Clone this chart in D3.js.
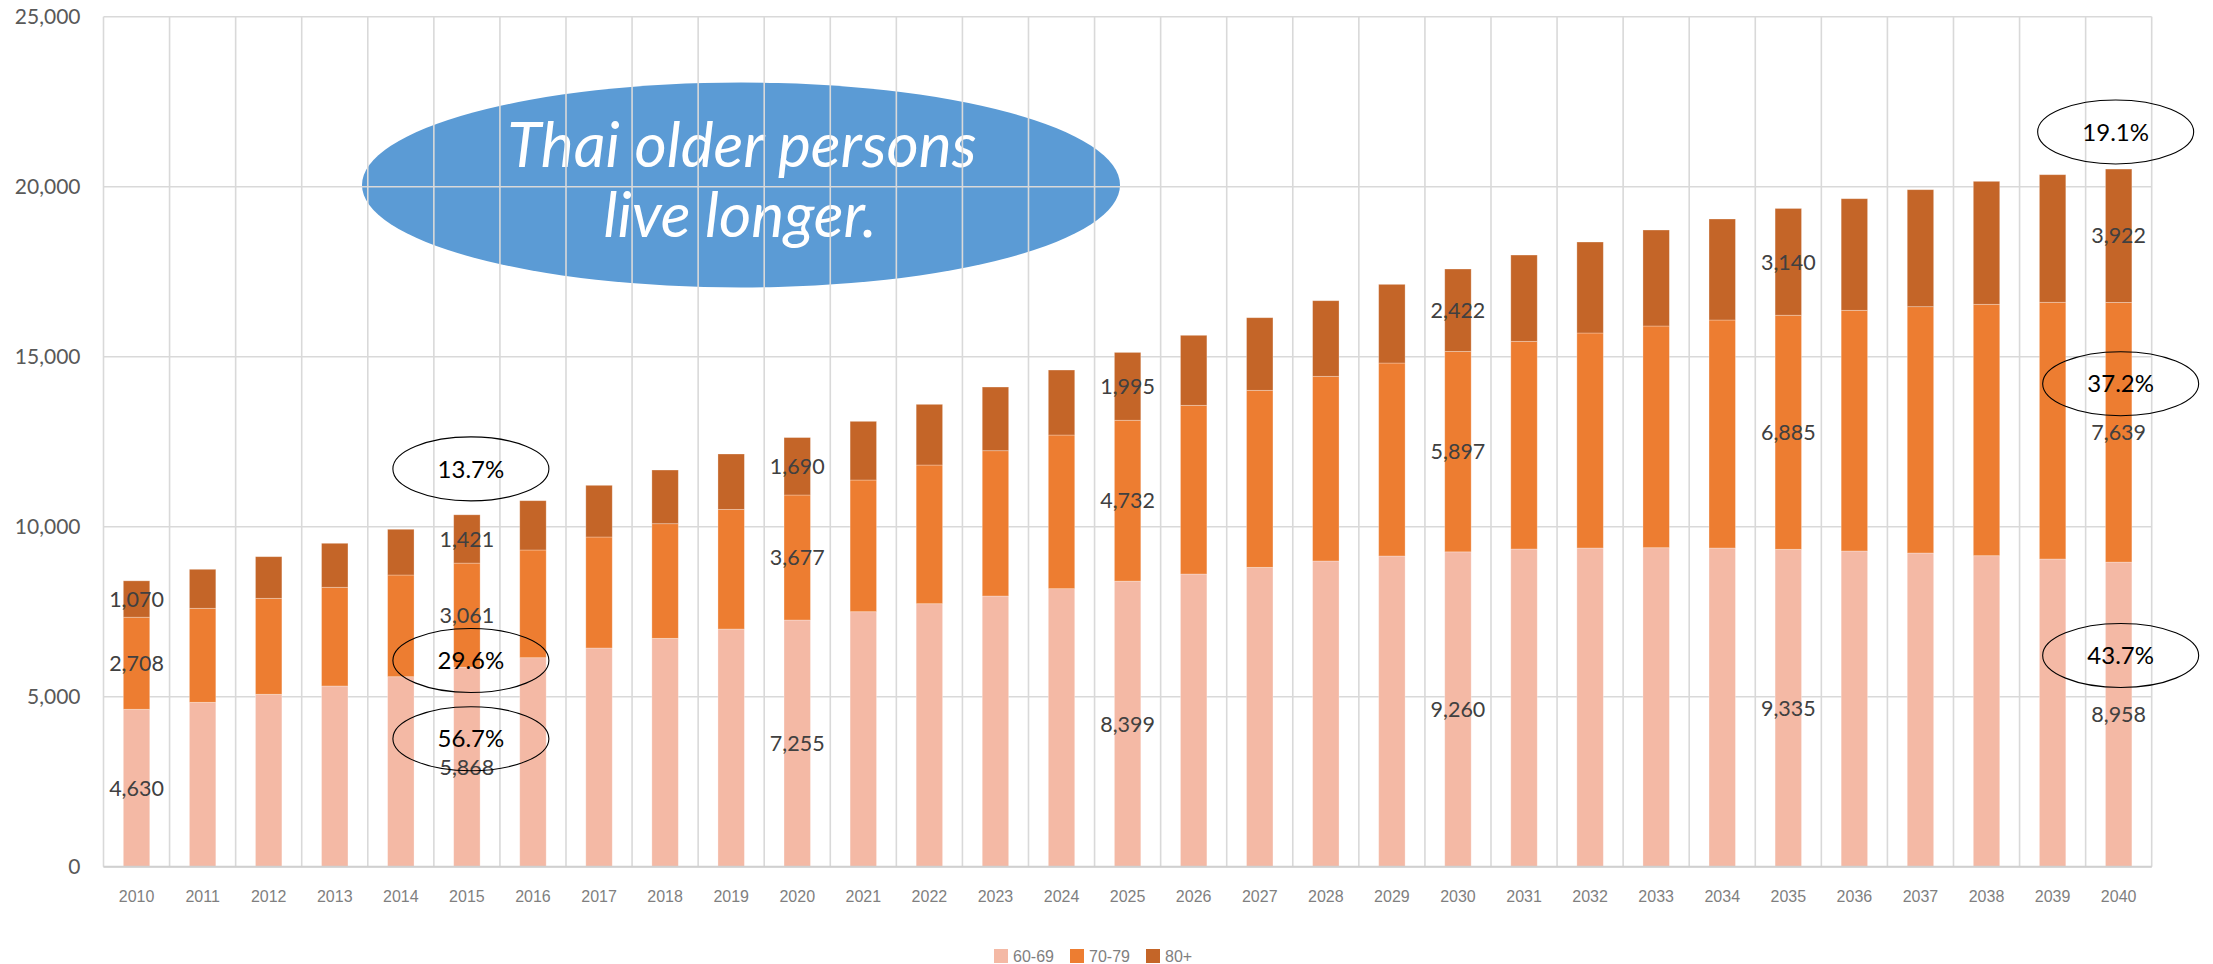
<!DOCTYPE html>
<meta charset="utf-8">
<style>
  body { margin: 0; background: #fff; }
</style>
<script src="https://d3js.org/d3.v7.min.js"></script>
<div id="chart"></div>
<script>

// categories
var years = ["2010","2011","2012","2013","2014","2015","2016","2017","2018","2019","2020",
             "2021","2022","2023","2024","2025","2026","2027","2028","2029","2030",
             "2031","2032","2033","2034","2035","2036","2037","2038","2039","2040"];

// population by age group (thousands)
var age6069 = [4630, 4835, 5071, 5315, 5588, 5868, 6147, 6432, 6717, 6990, 7255,
               7500, 7735, 7961, 8177, 8399, 8608, 8805, 8991, 9138, 9260,
               9344, 9373, 9382, 9373, 9335, 9285, 9226, 9147, 9050, 8958];
var age7079 = [2708, 2765, 2823, 2903, 2991, 3061, 3168, 3265, 3371, 3520, 3677,
               3873, 4079, 4274, 4519, 4732, 4962, 5206, 5432, 5676, 5897,
               6108, 6324, 6521, 6706, 6885, 7079, 7245, 7394, 7550, 7639];
var age80   = [1070, 1147, 1224, 1294, 1345, 1421, 1450, 1520, 1579, 1628, 1690,
               1726, 1785, 1873, 1912, 1995, 2059, 2136, 2224, 2314, 2422,
               2538, 2676, 2823, 2971, 3140, 3283, 3441, 3617, 3753, 3922];

var seriesNames = ["60-69", "70-79", "80+"];
var yTicks = [0, 5000, 10000, 15000, 20000, 25000];
var labelYears = ["2010", "2015", "2020", "2025", "2030", "2035", "2040"];

// share callouts: year, value where the ring sits, text
var calloutYears  = ["2015", "2015", "2015", "2040", "2040", "2040"];
var calloutValues = [11700, 6065, 3765, 21610, 14206, 6212];
var calloutShift  = [4, 4, 4, -3, 2, 2];
var calloutText   = ["13.7%", "29.6%", "56.7%", "19.1%", "37.2%", "43.7%"];

var titleLines = ["Thai older persons", "live longer."];

var W = 2213, H = 964;
var margin = {top: 16.7, right: 61.3, bottom: 97.3, left: 103.5};
var width = W - margin.left - margin.right;
var height = H - margin.top - margin.bottom;

var colors = ["#f4b9a5", "#ed7d31", "#c46528"];
var gridColor = "#d9d9d9";

var svg = d3.select("#chart").append("svg")
    .attr("width", W)
    .attr("height", H);

var g = svg.append("g")
    .attr("transform", "translate(" + margin.left + "," + margin.top + ")");

var x = d3.scaleBand().domain(years).range([0, width]).paddingInner(0).paddingOuter(0);
var y = d3.scaleLinear().domain([0, 25000]).range([height, 0]);
var barW = x.bandwidth() * 0.40;

// table for stacking
var table = years.map(function(yr, i) {
  return {year: yr, "60-69": age6069[i], "70-79": age7079[i], "80+": age80[i]};
});
var stack = d3.stack().keys(seriesNames)(table);

// title bubble (sits under the grid, as in the original)
var bubble = g.append("g");
bubble.append("ellipse")
    .attr("cx", 741 - margin.left)
    .attr("cy", 185 - margin.top)
    .attr("rx", 379)
    .attr("ry", 102.5)
    .attr("fill", "#5b9bd5");

var titleTargets = [{w: 468, cx: 742, base: 167}, {w: 274, cx: 740, base: 237}];
var titleTexts = titleLines.map(function(line, i) {
  return bubble.append("text")
      .attr("x", titleTargets[i].cx - margin.left)
      .attr("y", titleTargets[i].base - margin.top)
      .attr("text-anchor", "middle")
      .style("font-family", "Lato, 'Open Sans', sans-serif")
      .style("font-style", "italic")
      .style("font-size", "56px")
      .attr("fill", "#fff")
      .text(line);
});
// one size for both lines, fitted to the average width ratio
var ratio = d3.mean(titleTexts, function(t, i) {
  return titleTargets[i].w / t.node().getComputedTextLength();
});
titleTexts.forEach(function(t) { t.style("font-size", (56 * ratio) + "px"); });

// grid
g.append("g").selectAll("line.h")
    .data(yTicks)
    .enter().append("line")
    .attr("x1", 0).attr("x2", width)
    .attr("y1", function(d) { return y(d); })
    .attr("y2", function(d) { return y(d); })
    .attr("stroke", gridColor)
    .attr("stroke-width", 1.6);

var vLines = years.map(function(d) { return x(d); }).concat([width]);
g.append("g").selectAll("line.v")
    .data(vLines)
    .enter().append("line")
    .attr("x1", function(d) { return d; })
    .attr("x2", function(d) { return d; })
    .attr("y1", 0).attr("y2", height)
    .attr("stroke", gridColor)
    .attr("stroke-width", 1.6);

// bars
var layers = g.append("g").selectAll("g.layer")
    .data(stack)
    .enter().append("g")
    .attr("fill", function(d, i) { return colors[i]; });

layers.selectAll("rect")
    .data(function(d) { return d; })
    .enter().append("rect")
    .attr("x", function(d) { return x(d.data.year) + (x.bandwidth() - barW) / 2; })
    .attr("width", barW)
    .attr("y", function(d) { return y(d[1]); })
    .attr("height", function(d) { return y(d[0]) - y(d[1]); })
    .attr("stroke", "#fff")
    .attr("stroke-opacity", 0.35)
    .attr("stroke-width", 0.8);

// bottom axis line
g.append("line")
    .attr("x1", 0).attr("x2", width)
    .attr("y1", height).attr("y2", height)
    .attr("stroke", "#d0d0d0")
    .attr("stroke-width", 2);

// y axis labels
var yAxis = d3.axisLeft(y).tickValues(yTicks).tickSize(0).tickPadding(23)
    .tickFormat(d3.format(","));
var ya = g.append("g").call(yAxis);
ya.select(".domain").remove();
ya.selectAll("text")
    .style("font-family", "Lato, 'Open Sans', sans-serif")
    .style("font-size", "21px")
    .attr("fill", "#595959");

// x axis labels
var xAxis = d3.axisBottom(x).tickSize(0).tickPadding(24);
var xa = g.append("g").attr("transform", "translate(0," + height + ")").call(xAxis);
xa.select(".domain").remove();
xa.selectAll("text")
    .style("font-family", "'Liberation Sans', Arial, sans-serif")
    .style("font-size", "16px")
    .attr("fill", "#7f7f7f");

// data labels
stack.forEach(function(layer) {
  g.append("g").selectAll("text")
      .data(layer.filter(function(d) { return labelYears.indexOf(d.data.year) >= 0; }))
      .enter().append("text")
      .attr("x", function(d) { return x(d.data.year) + x.bandwidth() / 2; })
      .attr("y", function(d) { return y((d[0] + d[1]) / 2); })
      .attr("dy", "0.36em")
      .attr("text-anchor", "middle")
      .style("font-family", "Lato, 'Open Sans', sans-serif")
      .style("font-size", "21.5px")
      .attr("fill", "#404040")
      .text(function(d) { return d3.format(",")(d[1] - d[0]); });
});

// share rings
calloutText.forEach(function(t, i) {
  var cx = x(calloutYears[i]) + x.bandwidth() / 2 + calloutShift[i];
  var cy = y(calloutValues[i]);
  g.append("ellipse")
      .attr("cx", cx).attr("cy", cy)
      .attr("rx", 78).attr("ry", 32)
      .attr("fill", "none")
      .attr("stroke", "#000")
      .attr("stroke-width", 1.1);
  g.append("text")
      .attr("x", cx).attr("y", cy)
      .attr("dy", "0.36em")
      .attr("text-anchor", "middle")
      .style("font-family", "Lato, 'Open Sans', sans-serif")
      .style("font-size", "24px")
      .attr("fill", "#000")
      .text(t);
});

// legend
var legendX = [994, 1070, 1146];
var legend = svg.append("g");
seriesNames.forEach(function(name, i) {
  legend.append("rect")
      .attr("x", legendX[i]).attr("y", 949)
      .attr("width", 14).attr("height", 14)
      .attr("fill", colors[i]);
  legend.append("text")
      .attr("x", legendX[i] + 19).attr("y", 956)
      .attr("dy", "0.36em")
      .style("font-family", "'Liberation Sans', Arial, sans-serif")
      .style("font-size", "16px")
      .attr("fill", "#7f7f7f")
      .text(name);
});

</script>
